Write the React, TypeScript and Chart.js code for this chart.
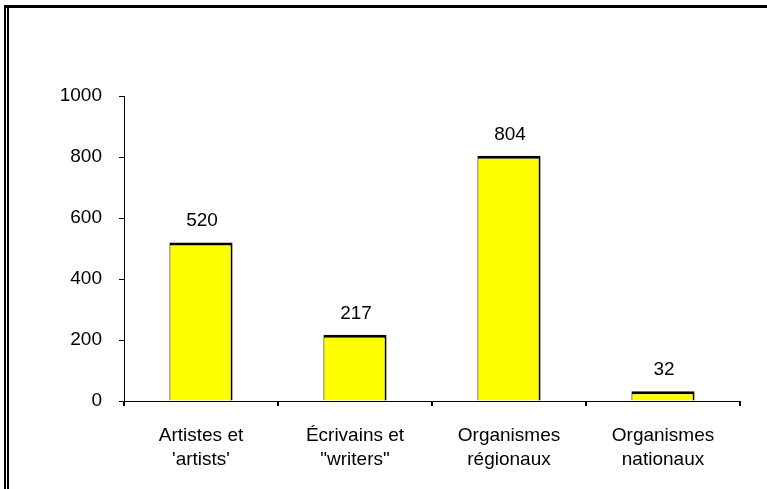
import React, { useEffect, useRef } from "react";
import { Chart, registerables } from "chart.js";

Chart.register(...registerables);

const categories: string[][] = [
  ["Artistes et", "'artists'"],
  ["Écrivains et", "\"writers\""],
  ["Organismes", "régionaux"],
  ["Organismes", "nationaux"],
];
const values: number[] = [520, 217, 804, 32];
const yTicks: number[] = [0, 200, 400, 600, 800, 1000];

const FONT = "'Liberation Sans', Arial, sans-serif";

// Value labels above each bar
const valueLabels = {
  id: "valueLabels",
  afterDatasetsDraw(chart: Chart) {
    const { ctx } = chart;
    const meta = chart.getDatasetMeta(0);
    ctx.save();
    ctx.fillStyle = "#000";
    ctx.font = `19px ${FONT}`;
    ctx.textAlign = "center";
    ctx.textBaseline = "bottom";
    meta.data.forEach((el: any, i: number) => {
      ctx.fillText(String(values[i]), el.x + 1, el.y - 12);
    });
    ctx.restore();
  },
};

// Outer frame: heavy top rule and double left rule
const frame = {
  id: "frame",
  afterDraw(chart: Chart) {
    const { ctx, width, height } = chart;
    ctx.save();
    ctx.fillStyle = "#000";
    ctx.fillRect(4, 5, width - 4, 3);
    ctx.fillRect(4, 5, 2, height - 5);
    ctx.fillRect(7, 8, 2, height - 8);
    ctx.restore();
  },
};

export default function App() {
  const ref = useRef<HTMLCanvasElement>(null);

  useEffect(() => {
    if (!ref.current) return;
    const chart = new Chart(ref.current, {
      type: "bar",
      data: {
        labels: categories,
        datasets: [
          {
            data: values,
            backgroundColor: "#FFFF00",
            borderColor: "#000",
            borderWidth: { top: 3, left: 1, right: 2, bottom: 0 },
            borderSkipped: "bottom",
            categoryPercentage: 0.82,
            barPercentage: 0.5,
          },
        ],
      },
      options: {
        responsive: false,
        animation: false,
        devicePixelRatio: 1,
        layout: { padding: { left: 0, right: 27, top: 96, bottom: 0 } },
        plugins: {
          legend: { display: false },
          tooltip: { enabled: false },
        },
        scales: {
          x: {
            afterFit(scale: any) {
              scale.height = 88;
            },
            grid: {
              display: true,
              offset: true,
              drawOnChartArea: false,
              drawTicks: true,
              tickLength: 5,
              color: "#000",
              lineWidth: 2,
            },
            border: { display: true, color: "#000", width: 1 },
            ticks: {
              color: "#000",
              font: { family: FONT, size: 19, lineHeight: 1.25 },
              padding: 18,
              maxRotation: 0,
            },
          },
          y: {
            min: 0,
            max: 1000,
            afterFit(scale: any) {
              scale.width = 124;
            },
            afterBuildTicks(scale: any) {
              scale.ticks = yTicks.map((v) => ({ value: v }));
            },
            grid: {
              display: true,
              drawOnChartArea: false,
              drawTicks: true,
              tickLength: 5,
              color: "#000",
              lineWidth: 1,
            },
            border: { display: true, color: "#000", width: 1 },
            ticks: {
              color: "#000",
              font: { family: FONT, size: 19 },
              padding: 17,
              callback: (v: any) => String(v),
            },
          },
        },
      },
      plugins: [valueLabels, frame],
    });
    return () => chart.destroy();
  }, []);

  return (
    <div style={{ position: "fixed", left: 0, top: 0, width: 767, height: 489, background: "#fff" }}>
      <canvas ref={ref} width={767} height={489} style={{ display: "block" }} />
    </div>
  );
}
